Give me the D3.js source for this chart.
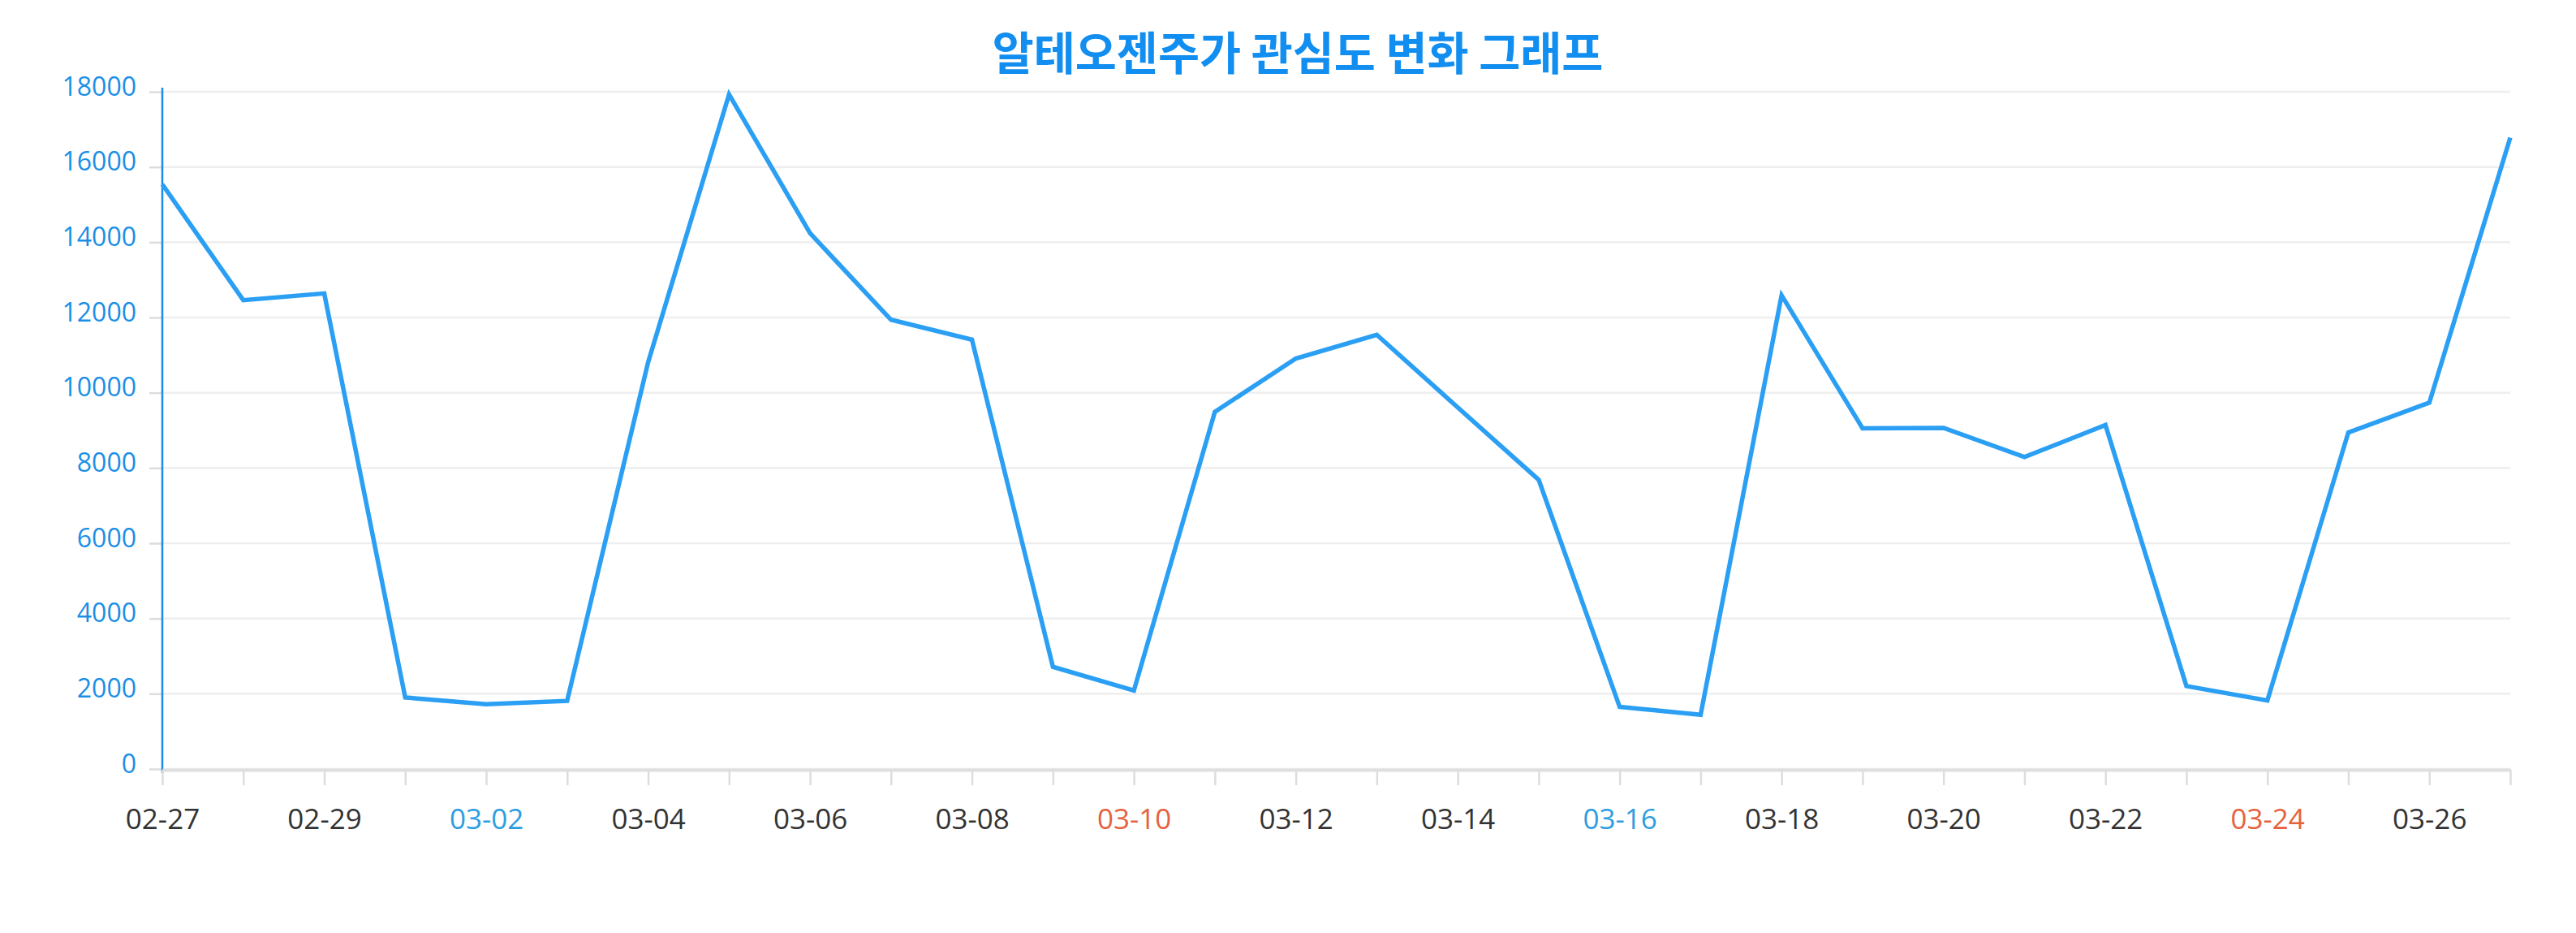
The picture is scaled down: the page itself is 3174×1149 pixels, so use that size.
<!DOCTYPE html>
<html>
<head>
    <meta charset="utf-8">
    <title>알테오젠주가 관심도 변화 그래프</title>
    <style>
        html, body {
            margin: 0;
            padding: 0;
            background: #fff;
        }
        #chart {
            display: block;
        }
        .axis text {
            font-family: "Open Sans", "Noto Sans", sans-serif;
        }
    </style>
    <script src="https://d3js.org/d3.v7.min.js"></script>
</head>
<body>
    <svg id="chart"></svg>
<script>
// dates (2024) and interest values
const dates = ["02-27", "02-28", "02-29", "03-01", "03-02", "03-03", "03-04", "03-05", "03-06", "03-07",
               "03-08", "03-09", "03-10", "03-11", "03-12", "03-13", "03-14", "03-15", "03-16", "03-17",
               "03-18", "03-19", "03-20", "03-21", "03-22", "03-23", "03-24", "03-25", "03-26", "03-27"];
const values = [15540, 12460, 12640, 1900, 1720, 1810, 10810, 17930, 14240, 11940,
                11410, 2715, 2085, 9490, 10910, 11540, 9610, 7685, 1650, 1440,
                12590, 9055, 9065, 8290, 9140, 2205, 1820, 8945, 9735, 16780];
const yTicks = [0, 2000, 4000, 6000, 8000, 10000, 12000, 14000, 16000, 18000];
const year = 2024;

const W = 3174, H = 1149;
const margin = { top: 113, right: 81, bottom: 202, left: 200 };
const width = W - margin.left - margin.right;
const height = H - margin.top - margin.bottom;

const svgRoot = d3.select("#chart").attr("width", W).attr("height", H);

svgRoot.append("text")
    .attr("x", 1599)
    .attr("y", 86)
    .attr("text-anchor", "middle")
    .attr("font-family", "'Noto Sans CJK KR', sans-serif")
    .attr("font-weight", "bold")
    .attr("font-size", "55.5px")
    .attr("fill", "#118ef0")
    .text("알테오젠주가 관심도 변화 그래프");

const svg = svgRoot.append("g")
    .attr("transform", "translate(" + margin.left + "," + margin.top + ")");

const x = d3.scalePoint()
    .domain(dates)
    .range([0, width]);

const y = d3.scaleLinear()
    .domain([0, 18000])
    .range([height, 0]);

// grid lines
svg.append("g")
    .selectAll("line")
    .data(yTicks)
    .join("line")
    .attr("x1", 0)
    .attr("x2", width)
    .attr("y1", d => y(d))
    .attr("y2", d => y(d))
    .attr("stroke", "#eeeeee")
    .attr("stroke-width", 2.5);

// y axis
const yAxis = d3.axisLeft(y)
    .tickValues(yTicks)
    .tickFormat(d3.format("d"))
    .tickSizeInner(16)
    .tickSizeOuter(0)
    .tickPadding(16);
const gy = svg.append("g")
    .attr("class", "y axis")
    .call(yAxis);
gy.select(".domain").remove();
gy.selectAll(".tick line").attr("stroke", "#dddddd").attr("stroke-width", 2.5);
gy.selectAll(".tick text")
    .attr("font-size", "32px")
    .attr("fill", "#1a8fe6")
    .attr("dy", "0.32em")
    .attr("y", -6);
gy.append("line")
    .attr("x1", 0).attr("x2", 0)
    .attr("y1", -5).attr("y2", height + 5)
    .attr("stroke", "#1a8ce6")
    .attr("stroke-width", 2.5);

// x axis
const dayColor = d => {
    const parts = d.split("-");
    const wd = new Date(year, +parts[0] - 1, +parts[1]).getDay();
    if (wd === 6) return "#2c9ee0";
    if (wd === 0) return "#e5623f";
    return "#333333";
};
const xAxis = d3.axisBottom(x)
    .tickSizeInner(19)
    .tickSizeOuter(0)
    .tickPadding(10)
    .tickFormat((d, i) => i % 2 === 0 ? d : "");
const gx = svg.append("g")
    .attr("class", "x axis")
    .attr("transform", "translate(0," + (height + 1) + ")")
    .call(xAxis);
gx.select(".domain").attr("stroke", "#dfdfdf").attr("stroke-width", 4);
gx.selectAll(".tick line").attr("stroke", "#dddddd").attr("stroke-width", 2.5);
gx.selectAll(".tick text")
    .attr("font-size", "35px")
    .attr("y", 0)
    .attr("dy", 0)
    .attr("transform", "translate(0,73)")
    .attr("fill", d => dayColor(d));

// line
const line = d3.line()
    .x((d, i) => x(dates[i]))
    .y(d => y(d));
svg.append("path")
    .datum(values)
    .attr("d", line)
    .attr("fill", "none")
    .attr("stroke", "#2b9ff3")
    .attr("stroke-width", 5.5)
    .attr("stroke-linejoin", "miter");
</script>
</body>
</html>
